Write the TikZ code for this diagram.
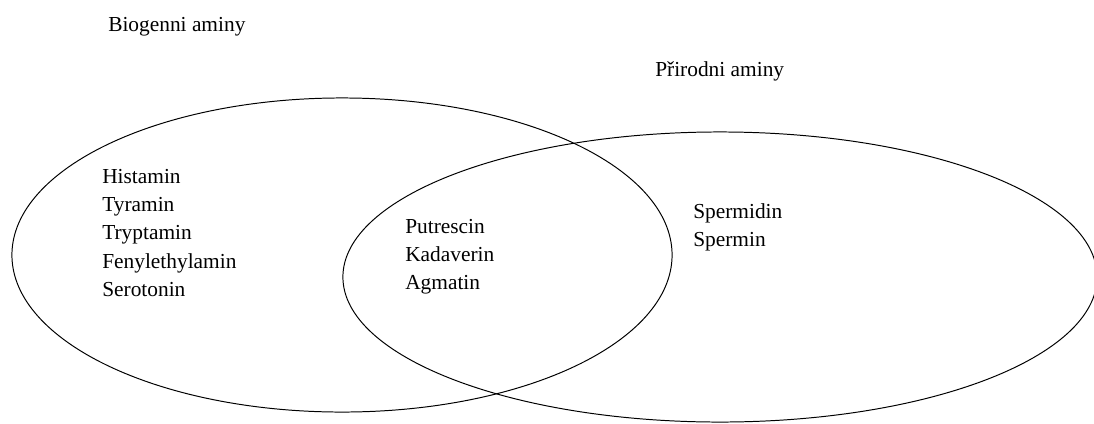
\documentclass[tikz,border=0pt]{standalone}
\usepackage{fontspec}
\setmainfont{Liberation Serif}
\begin{document}
\begin{tikzpicture}[x=0.025cm,y=-0.025cm,
    venn/.style={line width=0.7pt},
    setname/.style={inner sep=0pt,anchor=base west,
        font=\fontsize{15.2}{20.1}\selectfont},
    members/.style={inner sep=0pt,anchor=north west,align=left,
        font=\fontsize{15.2}{20.1}\selectfont}]
    \useasboundingbox (0,0) rectangle (1094,423);

    \coordinate (bioC) at (342,255);
    \coordinate (priC) at (720,277);
    \draw[venn] (bioC) ellipse [x radius=8.25cm, y radius=3.925cm];
    \draw[venn] (priC) ellipse [x radius=9.425cm, y radius=3.625cm];

    \node[setname] (bio) at (108,31) {Biogenni aminy};
    \node[setname] (pri) at (655,76) {Přirodni aminy};

    \node[members] (bioonly) at (102,169)
        {Histamin\\Tyramin\\Tryptamin\\Fenylethylamin\\Serotonin};
    \node[members] (both) at (405,219)
        {Putrescin\\Kadaverin\\Agmatin};
    \node[members] (prionly) at (693,203)
        {Spermidin\\Spermin};
\end{tikzpicture}
\end{document}
